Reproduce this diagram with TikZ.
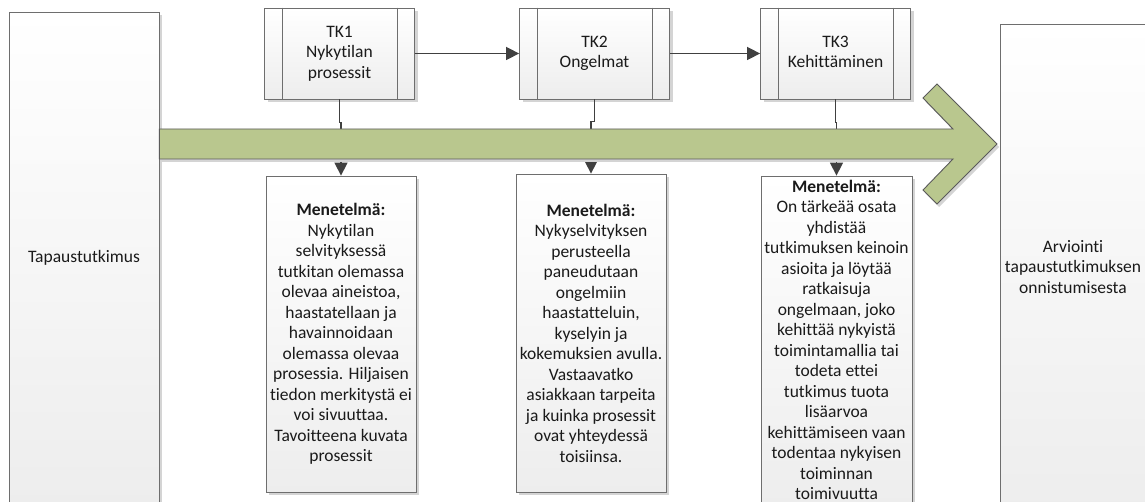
\documentclass[tikz,border=0pt]{standalone}
\usepackage{fontspec}
\setmainfont{Carlito}[Ligatures=NoCommon]
\usetikzlibrary{arrows.meta,shadows,calc}
\definecolor{boxline}{HTML}{6E6E6E}
\definecolor{bandgreen}{HTML}{B9C78E}
\definecolor{bandline}{HTML}{5A5A5A}
\definecolor{connline}{HTML}{404040}
\definecolor{shadowgray}{HTML}{D4D4D4}
\definecolor{textcol}{HTML}{1A1A1A}
% task label: centred lines, lowered slightly inside the task box
\newcommand\tasklabel[1]{\raisebox{-3pt}{\begin{tabular}{@{}c@{}}#1\end{tabular}}}
\begin{document}
\begin{tikzpicture}[x=1pt,y=-1pt,
  font=\fontsize{17.5}{20.5}\selectfont,
  panel/.style={draw=boxline, line width=0.8pt, top color=white, bottom color=black!7,
    drop shadow={shadow xshift=3pt, shadow yshift=-3pt, fill=shadowgray, opacity=1},
    text=textcol, align=center, inner sep=1pt, minimum width=150pt},
  tkbox/.style={panel, minimum height=91pt},
  conn/.style={draw=connline, line width=1.5pt, -{Triangle[length=13pt,width=13pt]}},
  bigarrow/.style={draw=bandline, line width=0.9pt, fill=bandgreen,
    drop shadow={shadow xshift=2pt, shadow yshift=-3pt, fill=shadowgray, opacity=1}}
]
\useasboundingbox (0,0) rectangle (1145,502);

% side panels
\node[panel, minimum width=150pt, minimum height=492pt] (case) at (84,258) {Tapaustutkimus};
\node[panel, minimum width=146pt, minimum height=486pt] (eval) at (1073,267)
  {Arviointi\\tapaustutkimuksen\\onnistumisesta};

% research tasks
\node[tkbox] (tk1) at (339.5,53.5) {\tasklabel{TK1\\Nykytilan\\prosessit}};
\node[tkbox] (tk2) at (594.5,53.5) {\tasklabel{TK2\\Ongelmat}};
\node[tkbox] (tk3) at (835.5,53.5) {\tasklabel{TK3\\Kehittäminen}};
\foreach \n in {tk1,tk2,tk3}{
  \draw[boxline, line width=0.8pt] ($(\n.north west)+(18,0)$) -- ($(\n.south west)+(18,0)$);
  \draw[boxline, line width=0.8pt] ($(\n.north east)+(-18,0)$) -- ($(\n.south east)+(-18,0)$);
}

% method descriptions
\node[panel, minimum height=316pt] (m1) at (341,334)
  {\textbf{Menetelmä:}\\Nykytilan\\selvityksessä\\tutkitan olemassa\\olevaa aineistoa,\\haastatellaan ja\\havainnoidaan\\olemassa olevaa\\prosessia. Hiljaisen\\tiedon merkitystä ei\\voi sivuuttaa.\\Tavoitteena kuvata\\prosessit};
\node[panel, minimum height=318pt] (m2) at (591,333)
  {\textbf{Menetelmä:}\\Nykyselvityksen\\perusteella\\paneudutaan\\ongelmiin\\haastatteluin,\\kyselyin ja\\kokemuksien avulla.\\Vastaavatko\\asiakkaan tarpeita\\ja kuinka prosessit\\ovat yhteydessä\\toisiinsa.};
\node[panel, minimum width=151pt, minimum height=328pt] (m3) at (836.5,340)
  {\textbf{Menetelmä:}\\On tärkeää osata\\yhdistää\\tutkimuksen keinoin\\asioita ja löytää\\ratkaisuja\\ongelmaan, joko\\kehittää nykyistä\\toimintamallia tai\\todeta ettei\\tutkimus tuota\\lisäarvoa\\kehittämiseen vaan\\todentaa nykyisen\\toiminnan\\toimivuutta};

% task sequence
\draw[conn] (tk1.east) -- (tk2.west);
\draw[conn] (tk2.east) -- (tk3.west);

% task to method connectors (pass beneath the timeline)
\draw[conn] (tk1.south) -- ++(0,23) -| (m1.north);
\draw[conn] (tk2.south) -- ++(0,22) -| (m2.north);
\draw[conn] (tk3.south) -- ++(0,23) -| (m3.north);

% timeline arrow
\draw[bigarrow] (case.east |- 0,129) -- (953,129) -- (923,98) -- (937,84) -- (997,144)
  -- (937,204) -- (923,190) -- (953,159) -- (case.east |- 0,159) -- cycle;
\end{tikzpicture}
\end{document}
